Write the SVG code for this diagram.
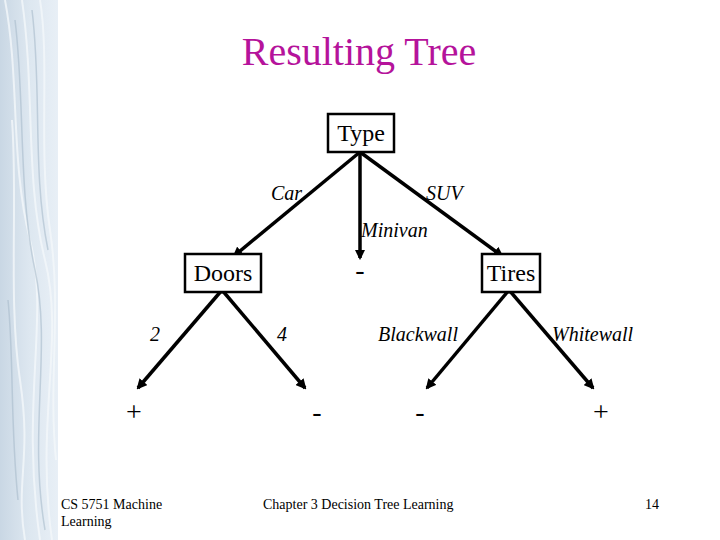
<svg xmlns="http://www.w3.org/2000/svg" width="720" height="540" viewBox="0 0 720 540">
<style>
.node rect{fill:#fff;stroke:#000;stroke-width:2.5}
.nt{font-size:24px;fill:#000;text-anchor:middle}
.el{font-size:20px;font-style:italic;fill:#000}
.leaf{font-size:28px;fill:#000;text-anchor:middle}
.ft{font-size:14px;fill:#000}
#edges line{stroke:#000;stroke-width:3.5;marker-end:url(#ah)}
</style>
<defs>
<marker id="ah" viewBox="0 0 10 10" refX="8" refY="5" markerWidth="3" markerHeight="3" orient="auto" markerUnits="strokeWidth">
<path d="M0,0 L10,5 L0,10 z" fill="#000"/>
</marker>
<linearGradient id="bg" x1="0" y1="0" x2="1" y2="0">
<stop offset="0" stop-color="#c9d7e4"/>
<stop offset="0.5" stop-color="#dde7f0"/>
<stop offset="1" stop-color="#e8eff6"/>
</linearGradient>
</defs>
<rect width="720" height="540" fill="#fff"/>
<g id="strip">
<rect x="0" y="0" width="58" height="540" fill="url(#bg)"/>
<g fill="none" stroke="#f4f8fb" stroke-width="2" opacity="0.8">
<path d="M5,0 C20,80 10,160 30,240 S20,400 40,540"/>
<path d="M22,0 C35,90 25,180 45,260 S35,420 52,540"/>
<path d="M40,0 C50,60 38,150 50,230 S48,380 56,460"/>
<path d="M12,120 C18,200 8,300 20,380 S15,480 25,540"/>
</g>
<g fill="none" stroke="#a9bccc" stroke-width="1.5" opacity="0.6">
<path d="M15,20 C25,100 18,190 35,270 S28,430 45,530"/>
<path d="M32,10 C42,90 32,170 48,250"/>
<path d="M8,300 C14,360 10,420 18,500"/>
</g>
</g>
<g font-family="Liberation Serif, Times New Roman, serif">
<text x="359" y="65" font-size="40" fill="#b5139b" text-anchor="middle">Resulting Tree</text>
<g id="edges">
<line x1="360" y1="152" x2="234" y2="256"/>
<line x1="360" y1="152" x2="360" y2="258"/>
<line x1="360" y1="152" x2="502" y2="256"/>
<line x1="222" y1="290" x2="138" y2="388"/>
<line x1="222" y1="290" x2="305" y2="388"/>
<line x1="509" y1="290" x2="427" y2="388"/>
<line x1="509" y1="290" x2="593" y2="388"/>
<circle cx="222" cy="290" r="3.5" fill="#000"/>
<circle cx="509" cy="290" r="3.5" fill="#000"/>
<circle cx="360" cy="152" r="3" fill="#000"/>
</g>
<g id="n-type" class="node"><rect x="328" y="114" width="66" height="38"/><text class="nt" x="361" y="141">Type</text></g>
<g id="n-doors" class="node"><rect x="185" y="254" width="76" height="38"/><text class="nt" x="223" y="281">Doors</text></g>
<g id="n-tires" class="node"><rect x="482" y="254" width="58" height="38"/><text class="nt" x="511" y="281">Tires</text></g>
<g id="labels">
<text class="el" x="271" y="200">Car</text>
<text class="el" x="426" y="200">SUV</text>
<text class="el" x="361" y="237">Minivan</text>
<text class="el" x="150" y="341">2</text>
<text class="el" x="277" y="341">4</text>
<text class="el" x="378" y="341">Blackwall</text>
<text class="el" x="552" y="341">Whitewall</text>
</g>
<g id="leaves">
<text class="leaf" x="360" y="279">-</text>
<text class="leaf" x="134" y="421">+</text>
<text class="leaf" x="317" y="421">-</text>
<text class="leaf" x="420" y="421">-</text>
<text class="leaf" x="601" y="421">+</text>
</g>
<g id="footer">
<text class="ft" x="61" y="509">CS 5751 Machine</text>
<text class="ft" x="61" y="526">Learning</text>
<text class="ft" x="263" y="509">Chapter 3  Decision Tree Learning</text>
<text class="ft" x="645" y="509">14</text>
</g>
</g>
</svg>
